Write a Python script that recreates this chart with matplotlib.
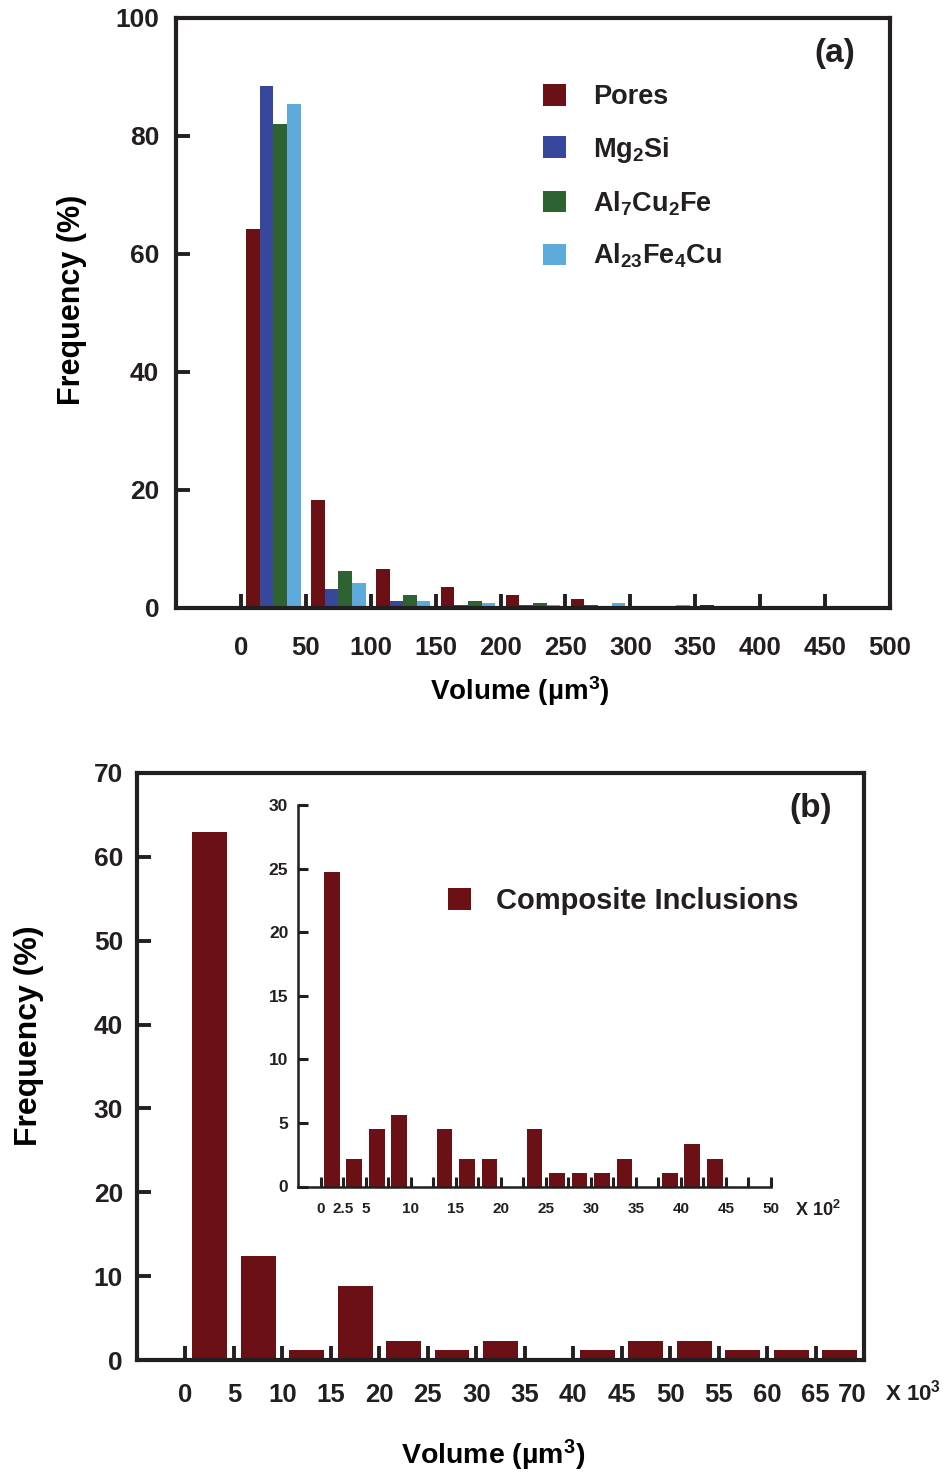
import numpy as np
import matplotlib
matplotlib.use("Agg")
import matplotlib.pyplot as plt
import matplotlib.transforms as mtransforms

plt.rcParams['font.family'] = ['Liberation Sans', 'DejaVu Sans']
plt.rcParams['font.weight'] = 'bold'
plt.rcParams['axes.labelweight'] = 'bold'
plt.rcParams['mathtext.fontset'] = 'custom'
plt.rcParams['mathtext.rm'] = 'Liberation Sans:bold'
plt.rcParams['mathtext.bf'] = 'Liberation Sans:bold'
plt.rcParams['mathtext.it'] = 'Liberation Sans:bold'
plt.rcParams['mathtext.default'] = 'rm'

ink = '#231f20'
c_pores = '#6b1116'
c_mg = '#37479c'
c_al7 = '#2e6231'
c_al23 = '#5faadd'

# ---- panel (a) data: 50 um^3 bins
bins_a = np.arange(25, 400, 50)
pores = [64.3, 18.3, 6.6, 3.6, 2.2, 1.5, 0.0, 0.5]
mg2si = [88.5, 3.2, 1.2, 0.5, 0.5, 0.5, 0.0, 0.0]
al7cu2fe = [82.0, 6.2, 2.2, 1.2, 0.85, 0.0, 0.0, 0.0]
al23fe4cu = [85.4, 4.2, 1.2, 0.85, 0.5, 0.85, 0.5, 0.0]
labels_a = ['Pores', r'Mg$_2$Si', r'Al$_7$Cu$_2$Fe', r'Al$_{23}$Fe$_4$Cu']

# ---- panel (b) data: 5 x10^3 um^3 bins
bins_b = np.arange(2.5, 70, 5)
composite = [63.0, 12.4, 1.2, 8.8, 2.3, 1.2, 2.3, 0.0, 1.2, 2.3, 2.3, 1.2, 1.2, 1.2]

# inset: 2.5 x10^2 um^3 bins
bins_in = np.arange(1.25, 50, 2.5)
composite_in = [24.7, 2.2, 4.5, 5.6, 0.0, 4.5, 2.2, 2.2, 0.0, 4.5,
                1.1, 1.1, 1.1, 2.2, 0.0, 1.1, 3.35, 2.2, 0.0, 0.0]
inset_ticklabels = ['0', '2.5', '5', '', '10', '', '15', '', '20', '', '25',
                    '', '30', '', '35', '', '40', '', '45', '', '50']

fig = plt.figure(figsize=(9.47, 14.75), dpi=100)


def style(ax, lw, tl, tw, xs, ys, xpad, ypad):
    for s in ax.spines.values():
        s.set_linewidth(lw)
        s.set_color(ink)
    ax.tick_params(direction='in', length=tl, width=tw, color=ink,
                   labelcolor=ink)
    ax.tick_params(axis='x', labelsize=xs, pad=xpad)
    ax.tick_params(axis='y', labelsize=ys, pad=ypad)


# ================= (a)
ax1 = fig.add_axes([176/947, 1-608/1475, 714/947, 590/1475])
w = 10.5
series = [pores, mg2si, al7cu2fe, al23fe4cu]
cols = [c_pores, c_mg, c_al7, c_al23]
for i, (vals, col, lab) in enumerate(zip(series, cols, labels_a)):
    ax1.bar(bins_a + (i - 1.5)*w, vals, width=w, color=col, label=lab,
            linewidth=0)
ax1.set_xlim(-50, 500)
ax1.set_ylim(0, 100)
ax1.set_xticks(np.arange(0, 501, 50))
ax1.set_yticks(np.arange(0, 101, 20))
style(ax1, 3.0, 10, 2.8, 18.5, 19, 20.5, 12)
ax1.set_xlabel(r'Volume (µm$^3$)', fontsize=20, va='center')
ax1.xaxis.set_label_coords(0.482, -0.141)
ax1.set_ylabel('Frequency (%)', fontsize=22, va='center')
ax1.yaxis.set_label_coords(-0.146, 0.522)
ax1.text(0.923, 0.939, '(a)', transform=ax1.transAxes, fontsize=24,
         ha='center', va='center', color=ink)
leg = ax1.legend(loc='upper left', bbox_to_anchor=(0.514, 0.888),
                 frameon=False, fontsize=19.5, handlelength=0.85,
                 handleheight=0.85, handletextpad=1.0, labelspacing=0.9,
                 borderpad=0, borderaxespad=0)
for t in leg.get_texts():
    t.set_color(ink)

# ================= (b)
ax2 = fig.add_axes([137/947, 1-1360/1475, 727/947, 587/1475])
ax2.bar(bins_b, composite, width=3.6, color=c_pores, linewidth=0,
        label='Composite Inclusions')
ax2.set_xlim(-5, 70)
ax2.set_ylim(0, 70)
ax2.set_xticks(np.arange(0, 71, 5))
ax2.set_yticks(np.arange(0, 71, 10))
style(ax2, 3.0, 10, 2.8, 18.5, 19, 16.5, 10)
# last label sits a bit left of its tick
lbl = ax2.get_xticklabels()[-1]
lbl.set_transform(lbl.get_transform() +
                  mtransforms.ScaledTranslation(-12/100, 0, fig.dpi_scale_trans))
ax2.text(1.029, -0.055, r'X 10$^3$', transform=ax2.transAxes, fontsize=16,
         ha='left', va='center', color=ink)
ax2.set_xlabel(r'Volume (µm$^3$)', fontsize=20.5, va='center')
ax2.xaxis.set_label_coords(0.490, -0.162)
ax2.set_ylabel('Frequency (%)', fontsize=23, va='center')
ax2.yaxis.set_label_coords(-0.148, 0.552)
ax2.text(0.926, 0.940, '(b)', transform=ax2.transAxes, fontsize=24,
         ha='center', va='center', color=ink)
leg2 = ax2.legend(loc='upper left', bbox_to_anchor=(0.428, 0.806),
                  frameon=False, fontsize=21, handlelength=0.8,
                  handleheight=0.8, handletextpad=0.85,
                  borderpad=0, borderaxespad=0)
for t in leg2.get_texts():
    t.set_color(ink)

# ================= inset
ax3 = fig.add_axes([298/947, 1-1186.5/1475, 473/947, 381.5/1475])
ax3.bar(bins_in, composite_in, width=1.75, color=c_pores, linewidth=0)
ax3.set_xlim(-2.5, 50)
ax3.set_ylim(0, 30)
ax3.set_xticks(np.arange(0, 50.1, 2.5))
ax3.set_xticklabels(inset_ticklabels)
ax3.set_yticks(np.arange(0, 31, 5))
ax3.spines['top'].set_visible(False)
ax3.spines['right'].set_visible(False)
style(ax3, 1.8, 7, 2.2, 11, 12.5, 11, 7)
ax3.patch.set_alpha(0)
ax3.text(1.051, -0.062, r'X 10$^2$', transform=ax3.transAxes, fontsize=13,
         ha='left', va='center', color=ink)

fig.savefig('out.png', dpi=100)
